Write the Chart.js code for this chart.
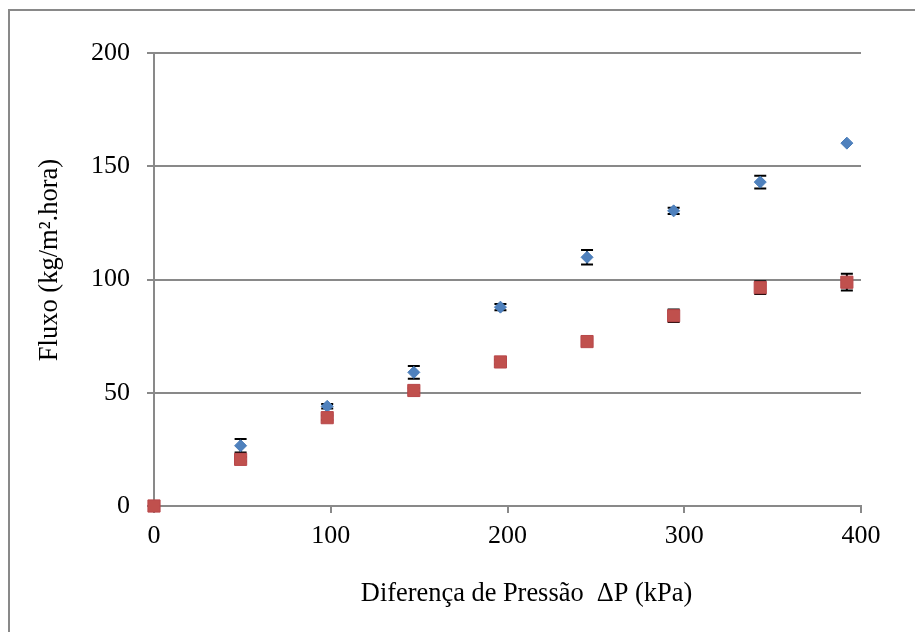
<!DOCTYPE html>
<html lang="pt">
<head>
<meta charset="utf-8">
<title>Fluxo x Diferença de Pressão</title>
<script src="https://cdn.jsdelivr.net/npm/chart.js@4.4.1/dist/chart.umd.min.js"></script>
<style>
  html, body { margin: 0; padding: 0; background: #fff; }
  canvas { display: block; }
</style>
</head>
<body>
<canvas id="graficoFluxo" width="915" height="632"></canvas>
<script>
// pressure difference (kPa) and measured flux (kg/m2.hora) with error
const pressao = [0, 49, 98, 147, 196, 245, 294, 343, 392];
const fluxoA = [0, 26.6, 44.0, 59.0, 87.8, 109.8, 130.3, 143.0, 160.2];
const erroA = [0, 3.0, 1.0, 2.8, 1.4, 3.2, 1.4, 2.8, 0];
const fluxoB = [0, 20.6, 39.0, 51.0, 63.6, 72.6, 84.0, 96.4, 98.8];
const erroB = [0, 1.0, 1.0, 1.0, 1.0, 1.0, 2.8, 2.8, 3.7];
const ticksX = [0, 100, 200, 300, 400];
const ticksY = [0, 50, 100, 150, 200];

const tituloX = 'Diferença de Pressão  ΔP (kPa)';
const tituloY = 'Fluxo (kg/m².hora)';

const cinza = '#898989';
const fonte = '"Liberation Serif", "Times New Roman", serif';

// black error bars, drawn under the markers
const barrasErro = {
  id: 'barrasErro',
  beforeDatasetsDraw(chart) {
    const { ctx, scales: { x, y } } = chart;
    ctx.save();
    ctx.strokeStyle = '#000';
    ctx.lineWidth = 2;
    chart.data.datasets.forEach(ds => {
      ds.data.forEach((p, i) => {
        const e = ds.erros[i];
        if (!e) return;
        const px = x.getPixelForValue(p.x);
        const yTop = y.getPixelForValue(p.y + e);
        const yBot = y.getPixelForValue(p.y - e);
        ctx.beginPath();
        ctx.moveTo(px, yTop);
        ctx.lineTo(px, yBot);
        ctx.moveTo(px - 6, yTop);
        ctx.lineTo(px + 6, yTop);
        ctx.moveTo(px - 6, yBot);
        ctx.lineTo(px + 6, yBot);
        ctx.stroke();
      });
    });
    ctx.restore();
  }
};

// outer frame and axis titles
const moldura = {
  id: 'moldura',
  beforeDraw(chart) {
    const { ctx } = chart;
    ctx.save();
    ctx.strokeStyle = cinza;
    ctx.lineWidth = 2;
    ctx.strokeRect(9, 10, 1000, 1000);
    ctx.restore();
  },
  afterDraw(chart) {
    const { ctx, chartArea } = chart;
    ctx.save();
    ctx.fillStyle = '#000';
    ctx.font = '26.4px ' + fonte;
    ctx.textAlign = 'center';
    ctx.textBaseline = 'alphabetic';
    ctx.fillText(tituloX, (chartArea.left + chartArea.right) / 2 + 19, 601);
    ctx.font = '26.5px ' + fonte;
    ctx.textBaseline = 'middle';
    ctx.translate(50, 260);
    ctx.rotate(-Math.PI / 2);
    ctx.fillText(tituloY, 0, 0);
    ctx.restore();
  }
};

const pontos = (xs, ys) => xs.map((v, i) => ({ x: v, y: ys[i] }));

new Chart(document.getElementById('graficoFluxo'), {
  type: 'scatter',
  data: {
    datasets: [
      {
        label: 'B',
        data: pontos(pressao, fluxoB),
        erros: erroB,
        pointStyle: 'rect',
        pointRadius: 8.6,
        backgroundColor: '#C0504D',
        borderColor: '#B8474A',
        borderWidth: 1,
        clip: false,
        order: 0
      },
      {
        label: 'A',
        data: pontos(pressao, fluxoA),
        erros: erroA,
        pointStyle: 'rectRot',
        pointRadius: 6,
        backgroundColor: '#4F81BD',
        borderColor: '#4A7DBA',
        borderWidth: 1,
        clip: false,
        order: 1
      }
    ]
  },
  options: {
    responsive: false,
    animation: false,
    layout: { padding: { left: 10, top: 53, right: 54, bottom: 0 } },
    plugins: {
      legend: { display: false },
      tooltip: { enabled: false }
    },
    scales: {
      x: {
        type: 'linear',
        min: 0,
        max: 400,
        afterBuildTicks: s => { s.ticks = ticksX.map(v => ({ value: v })); },
        afterFit: s => { s.height = 126; },
        border: { color: cinza, width: 2 },
        grid: { drawOnChartArea: false, drawTicks: true, tickLength: 7, color: cinza, lineWidth: 2 },
        ticks: { color: '#000', padding: 8, font: { family: fonte, size: 26 } }
      },
      y: {
        min: 0,
        max: 200,
        afterBuildTicks: s => { s.ticks = ticksY.map(v => ({ value: v })); },
        afterFit: s => { s.width = 144; },
        border: { color: cinza, width: 2 },
        grid: { tickLength: 7, color: cinza, lineWidth: 2 },
        ticks: { color: '#000', padding: 17, font: { family: fonte, size: 26 } }
      }
    }
  },
  plugins: [barrasErro, moldura]
});
</script>
</body>
</html>
